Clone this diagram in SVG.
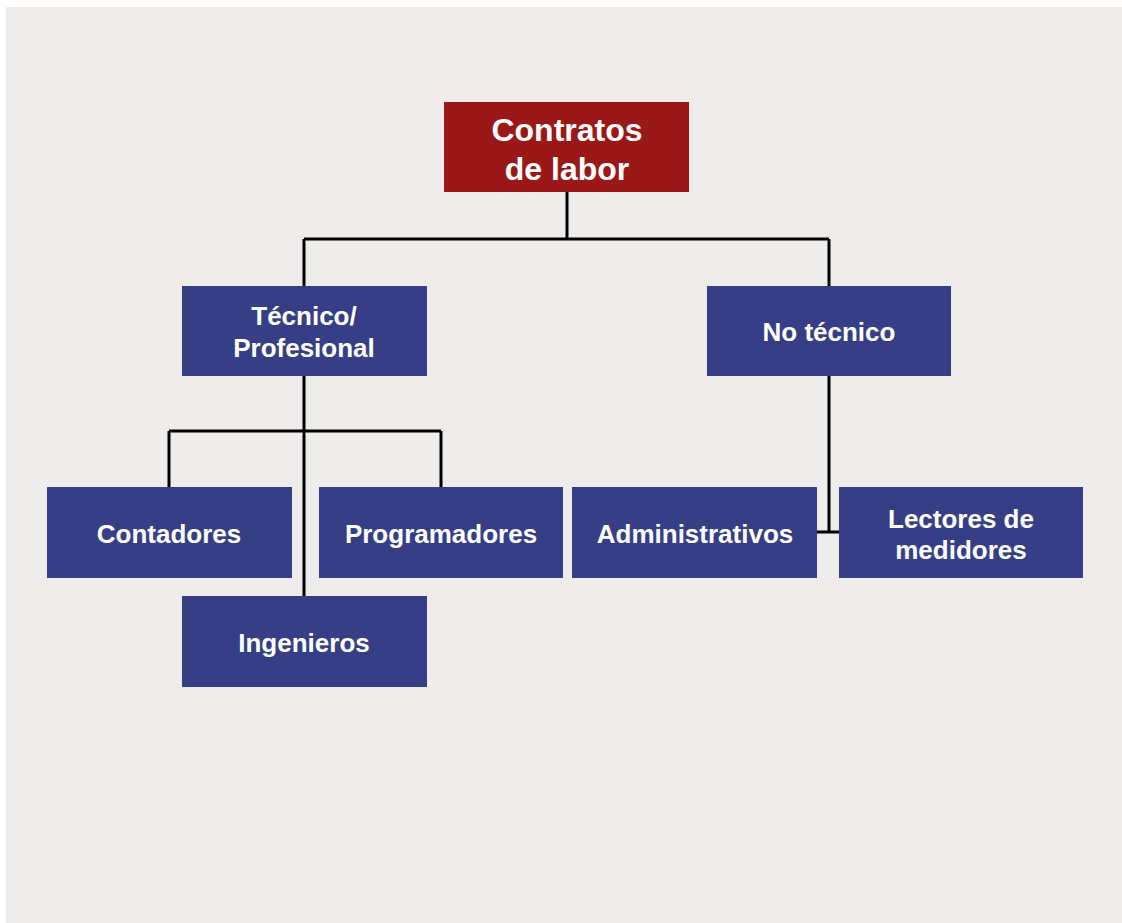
<svg xmlns="http://www.w3.org/2000/svg" width="1122" height="923" viewBox="0 0 1122 923">
  <style>
    .bg { fill: #EEEDEB; }
    .root { fill: #9B1818; }
    .box { fill: #363F86; }
    .lbl { font-family: "Liberation Sans", Arial, sans-serif; font-weight: bold; fill: #FFFFFF; text-anchor: middle; font-size: 26px; }
    .big { font-size: 32px; }
    .wire { fill: none; stroke: #000000; stroke-width: 3; }
  </style>
  <rect width="1122" height="923" fill="#FFFFFF"/>
  <rect class="bg" x="6" y="7" width="1116" height="916"/>

  <!-- connectors -->
  <g id="connectors">
    <path class="wire" d="M567,192 V239 M304,239 H829 M304,239 V286 M829,239 V286"/>
    <path class="wire" d="M304,376 V596 M169,431 H441 M169,431 V487 M441,431 V487"/>
    <path class="wire" d="M829,376 V532 M817,532 H840"/>
  </g>

  <g id="contratos">
    <rect class="root" x="444" y="102" width="245" height="90"/>
    <text class="lbl big" x="567" y="141">Contratos</text>
    <text class="lbl big" x="567" y="180">de labor</text>
  </g>

  <g id="tecnico">
    <rect class="box" x="182" y="286" width="245" height="90"/>
    <text class="lbl" x="304" y="325">Técnico/</text>
    <text class="lbl" x="304" y="357">Profesional</text>
  </g>

  <g id="no-tecnico">
    <rect class="box" x="707" y="286" width="244" height="90"/>
    <text class="lbl" x="829" y="341">No técnico</text>
  </g>

  <g id="contadores">
    <rect class="box" x="47" y="487" width="245" height="91"/>
    <text class="lbl" x="169" y="543">Contadores</text>
  </g>

  <g id="programadores">
    <rect class="box" x="319" y="487" width="244" height="91"/>
    <text class="lbl" x="441" y="543">Programadores</text>
  </g>

  <g id="administrativos">
    <rect class="box" x="572" y="487" width="245" height="91"/>
    <text class="lbl" x="695" y="543">Administrativos</text>
  </g>

  <g id="lectores">
    <rect class="box" x="839" y="487" width="244" height="91"/>
    <text class="lbl" x="961" y="528">Lectores de</text>
    <text class="lbl" x="961" y="559">medidores</text>
  </g>

  <g id="ingenieros">
    <rect class="box" x="182" y="596" width="245" height="91"/>
    <text class="lbl" x="304" y="652">Ingenieros</text>
  </g>
</svg>
